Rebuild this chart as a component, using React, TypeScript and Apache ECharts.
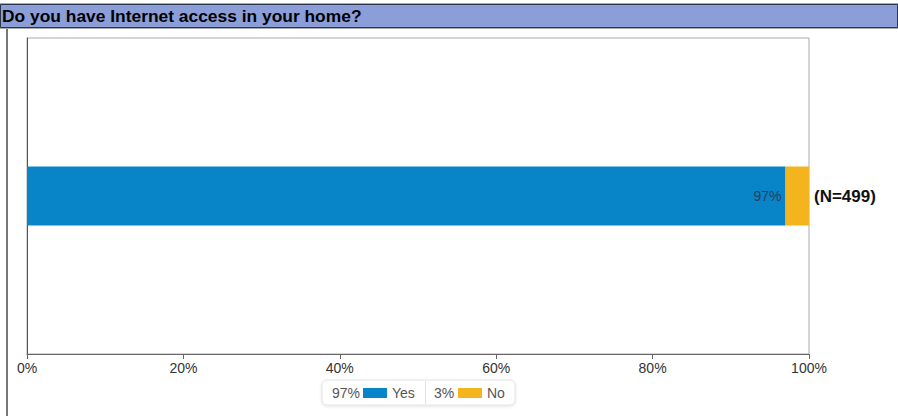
import React, { useEffect, useRef } from "react";
import * as echarts from "echarts";

const title = "Do you have Internet access in your home?";
const categories = ["Internet access"];
const seriesNames = ["Yes", "No"];
const yesValues = [97];
const noValues = [3];
const sampleLabel = "(N=499)";
const tickLabels = ["0%", "20%", "40%", "60%", "80%", "100%"];
const colors = ["#0785c8", "#f4b41e"];

export default function App() {
  const ref = useRef<HTMLDivElement>(null);
  useEffect(() => {
    if (!ref.current) return;
    const chart = echarts.init(ref.current, null, { renderer: "svg" });
    const font = "Liberation Sans, Arial, Helvetica, sans-serif";
    const legendItems = [
      { pct: yesValues[0] + "%", name: seriesNames[0], color: colors[0] },
      { pct: noValues[0] + "%", name: seriesNames[1], color: colors[1] },
    ];
    const legendGraphics: any[] = [
      {
        type: "rect",
        shape: { x: 322, y: 380, width: 193, height: 25, r: 5 },
        style: { fill: "#fff", stroke: "#e2e2e2", lineWidth: 1, shadowBlur: 3, shadowColor: "rgba(0,0,0,0.12)", shadowOffsetY: 1 },
      },
      {
        type: "line",
        shape: { x1: 425.5, y1: 381, x2: 425.5, y2: 404 },
        style: { stroke: "#e2e2e2", lineWidth: 1 },
      },
    ];
    const starts = [332, 434];
    const swatchOff = [31, 24];
    legendItems.forEach((it, i) => {
      const x0 = starts[i];
      legendGraphics.push({
        type: "text",
        x: x0,
        y: 393,
        style: { text: it.pct, font: `14px ${font}`, fill: "#555", verticalAlign: "middle" },
      });
      legendGraphics.push({
        type: "rect",
        shape: { x: x0 + swatchOff[i], y: 388, width: 24, height: 10 },
        style: { fill: it.color },
      });
      legendGraphics.push({
        type: "text",
        x: x0 + swatchOff[i] + 29,
        y: 393,
        style: { text: it.name, font: `14px ${font}`, fill: "#555", verticalAlign: "middle" },
      });
    });

    chart.setOption({
      animation: false,
      grid: { left: 27, right: 89, top: 38, bottom: 62, show: true, borderColor: "#aaa", borderWidth: 1, containLabel: false },
      xAxis: {
        type: "value",
        min: 0,
        max: 100,
        interval: 20,
        axisLine: { show: true, lineStyle: { color: "#666", width: 1 } },
        axisTick: { show: true, length: 5, lineStyle: { color: "#666" } },
        splitLine: { show: false },
        axisLabel: {
          color: "#333",
          fontFamily: font,
          fontSize: 14,
          margin: 7,
          formatter: (v: number) => tickLabels[Math.round(v / 20)],
        },
      },
      yAxis: {
        type: "category",
        data: categories,
        axisLine: { show: true, lineStyle: { color: "#555", width: 1 } },
        axisTick: { show: false },
        axisLabel: { show: false },
      },
      series: [
        {
          name: seriesNames[0],
          type: "bar",
          stack: "total",
          barWidth: 59,
          data: yesValues,
          itemStyle: { color: colors[0] },
          label: {
            show: true,
            position: "insideRight",
            distance: 4,
            formatter: (p: any) => p.value + "%",
            color: "#22405f",
            fontFamily: font,
            fontSize: 14,
          },
        },
        {
          name: seriesNames[1],
          type: "bar",
          stack: "total",
          barWidth: 59,
          data: noValues,
          itemStyle: { color: colors[1] },
          label: {
            show: true,
            position: "right",
            distance: 5,
            formatter: () => sampleLabel,
            color: "#111",
            fontFamily: font,
            fontSize: 17,
            fontWeight: "bold",
          },
        },
      ],
      graphic: [
        {
          type: "rect",
          shape: { x: 0, y: 3, width: 898, height: 26 },
          style: { fill: "#a8a8a8" },
          z: 10,
        },
        {
          type: "rect",
          shape: { x: 0.5, y: 4.5, width: 897, height: 23 },
          style: { fill: "#8b9ed8", stroke: "#2b3550", lineWidth: 1 },
          z: 11,
        },
        {
          type: "text",
          x: 2,
          y: 16,
          style: { text: title, font: `bold 17.4px ${font}`, fill: "#000", verticalAlign: "middle" },
          z: 12,
        },
        {
          type: "line",
          shape: { x1: 7, y1: 29, x2: 7, y2: 416 },
          style: { stroke: "#777", lineWidth: 2 },
        },
        ...legendGraphics,
      ],
    });
    return () => chart.dispose();
  }, []);
  return <div ref={ref} style={{ position: "absolute", left: 0, top: 0, width: 898, height: 416 }} />;
}
